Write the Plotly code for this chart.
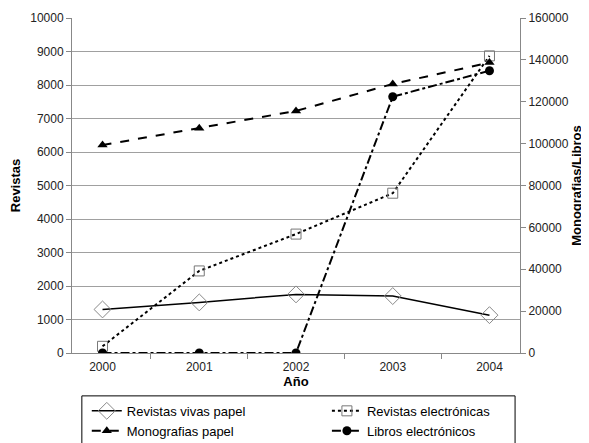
import plotly.graph_objects as go

years = ["2000", "2001", "2002", "2003", "2004"]
revistas_vivas = [1300, 1510, 1750, 1700, 1130]
revistas_electronicas = [200, 2450, 3550, 4770, 8870]
monografias = [99300, 107300, 115600, 128500, 138700]
libros_electronicos = [0, 0, 0, 122400, 134800]

fig = go.Figure()
fig.add_trace(go.Scatter(x=years, y=revistas_vivas, name="Revistas vivas papel", mode="lines+markers",
    legend="legend",
    line=dict(color="black", width=1.5, dash="solid"),
    marker=dict(symbol="diamond-open", size=13, color="#888888", line=dict(width=1))))
fig.add_trace(go.Scatter(x=years, y=revistas_electronicas, name="Revistas electrónicas", mode="lines+markers",
    legend="legend2",
    line=dict(color="black", width=2, dash="dot"),
    marker=dict(symbol="square-open", size=10, color="#777777", line=dict(width=1))))
fig.add_trace(go.Scatter(x=years, y=monografias, name="Monografias papel", mode="lines+markers", yaxis="y2",
    legend="legend",
    line=dict(color="black", width=2, dash="dash"),
    marker=dict(symbol="triangle-up", size=9, color="black")))
fig.add_trace(go.Scatter(x=years, y=libros_electronicos, name="Libros electrónicos", mode="lines+markers", yaxis="y2",
    legend="legend2",
    line=dict(color="black", width=2, dash="dashdot"),
    marker=dict(symbol="circle", size=9, color="black")))

font = "Liberation Sans, Arial, sans-serif"
axis_grey = "#888888"
fig.update_layout(
    width=581, height=435,
    margin=dict(l=64, r=69, t=10, b=90, autoexpand=False),
    paper_bgcolor="white", plot_bgcolor="white",
    font=dict(family=font, size=12, color="black"),
    xaxis=dict(type="category", tickson="boundaries", ticks="outside", ticklen=5, tickcolor=axis_grey,
               showline=True, linecolor=axis_grey, showgrid=False, automargin=False,
               ticklabelstandoff=3,
               title=dict(text="<b>Año</b>", font=dict(size=13), standoff=2),
               tickfont=dict(size=12, color="#222222")),
    yaxis=dict(range=[0, 10000], dtick=1000, tickformat="d", showgrid=True, gridcolor="#a0a0a0", gridwidth=1,
               showline=True, linecolor=axis_grey, ticks="outside", ticklen=5, tickcolor=axis_grey,
               zeroline=False, tickfont=dict(size=12, color="#222222"), automargin=False,
               title=dict(text="<b>Revistas</b>", font=dict(size=13), standoff=6)),
    yaxis2=dict(range=[0, 160000], dtick=20000, tickformat="d", overlaying="y", side="right", showgrid=False,
                showline=True, linecolor=axis_grey, ticks="outside", ticklen=5, tickcolor=axis_grey,
                zeroline=False, tickfont=dict(size=12, color="#222222"), automargin=False,
                title=dict(text="<b>Monografias/Libros</b>", font=dict(size=13), standoff=2)),
    legend=dict(orientation="v", x=0.033, y=-0.128, xanchor="left", yanchor="top",
                borderwidth=0, bgcolor="rgba(0,0,0,0)", font=dict(size=13), tracegroupgap=0,
                itemwidth=30, traceorder="normal"),
    legend2=dict(orientation="v", x=0.569, y=-0.128, xanchor="left", yanchor="top",
                 borderwidth=0, bgcolor="rgba(0,0,0,0)", font=dict(size=13), tracegroupgap=0,
                 itemwidth=30, traceorder="normal"),
    shapes=[dict(type="rect", xref="paper", yref="paper", x0=0.022, x1=0.989, y0=-0.128, y1=-0.40,
                 line=dict(color="black", width=1), fillcolor="rgba(0,0,0,0)", layer="below")],
    showlegend=True,
)
fig.write_html("out.html")
